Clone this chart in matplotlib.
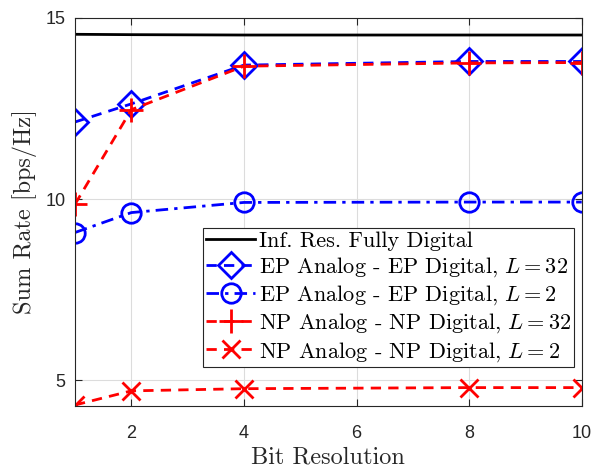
import matplotlib
matplotlib.use("Agg")
import matplotlib.pyplot as plt
import numpy as np

plt.rcParams['mathtext.fontset'] = 'cm'
plt.rcParams['axes.unicode_minus'] = False
plt.rcParams['lines.dashed_pattern'] = [3.7, 2.6]
plt.rcParams['lines.dashdot_pattern'] = [4.5, 2.2, 1.2, 2.2]

bits = [1, 2, 4, 8, 10]
inf_res = [14.55, 14.54, 14.53, 14.53, 14.53]
ep_32 = [12.13, 12.63, 13.70, 13.80, 13.80]
ep_2 = [9.08, 9.63, 9.91, 9.92, 9.92]
np_32 = [9.86, 12.47, 13.67, 13.76, 13.77]
np_2 = [4.32, 4.71, 4.77, 4.80, 4.80]

labels = ['Inf. Res. Fully Digital',
          'EP Analog - EP Digital, $L = 32$',
          'EP Analog - EP Digital, $L = 2$',
          'NP Analog - NP Digital, $L = 32$',
          'NP Analog - NP Digital, $L = 2$']

fig = plt.figure(figsize=(5.93, 4.71), dpi=100)
ax = fig.add_axes([0.1265, 0.1386, 0.8545, 0.8232])

ax.plot(bits, inf_res, '-', color='k', lw=2, label=labels[0])
ax.plot(bits, ep_32, '--', color='b', lw=2, marker='D', ms=13, mfc='none', mew=2, label=labels[1])
ax.plot(bits, ep_2, '-.', color='b', lw=2, marker='o', ms=14, mfc='none', mew=2, label=labels[2])
ax.plot(bits, np_32, '--', color='r', lw=2, marker='+', ms=17, mew=2, label=labels[3])
ax.plot(bits, np_2, '--', color='r', lw=2, marker='x', ms=13, mew=2, label=labels[4])

ax.set_xlim(1, 10)
ax.set_ylim(4.3, 15)
ax.set_xticks([2, 4, 6, 8, 10])
ax.set_yticks([5, 10, 15])
ax.grid(True, color='#dcdcdc', lw=0.8)
ax.set_axisbelow(True)
ax.tick_params(direction='in', top=True, right=True, labelsize=13, colors='#262626', length=5)
ax.tick_params(axis='x', pad=14)
ax.tick_params(axis='y', pad=7)
for lab in ax.get_xticklabels() + ax.get_yticklabels():
    lab.set_fontfamily('Liberation Sans')
for s in ax.spines.values():
    s.set_color('#262626')
    s.set_linewidth(0.8)

ax.set_xlabel('Bit Resolution', fontfamily='cmr10', fontsize=17.5, color='#262626', labelpad=3)
ax.set_ylabel('Sum Rate [bps/Hz]', fontfamily='cmr10', fontsize=17.5, color='#262626', labelpad=6)

leg = ax.legend(loc='lower right', bbox_to_anchor=(0.985, 0.10), prop={'family': 'cmr10', 'size': 16},
                fancybox=False, edgecolor='#262626', framealpha=1, handlelength=2.2,
                borderpad=0.15, labelspacing=0.2, handletextpad=0.15, borderaxespad=0)
leg.get_frame().set_linewidth(0.8)

fig.savefig('out.png', dpi=100)
